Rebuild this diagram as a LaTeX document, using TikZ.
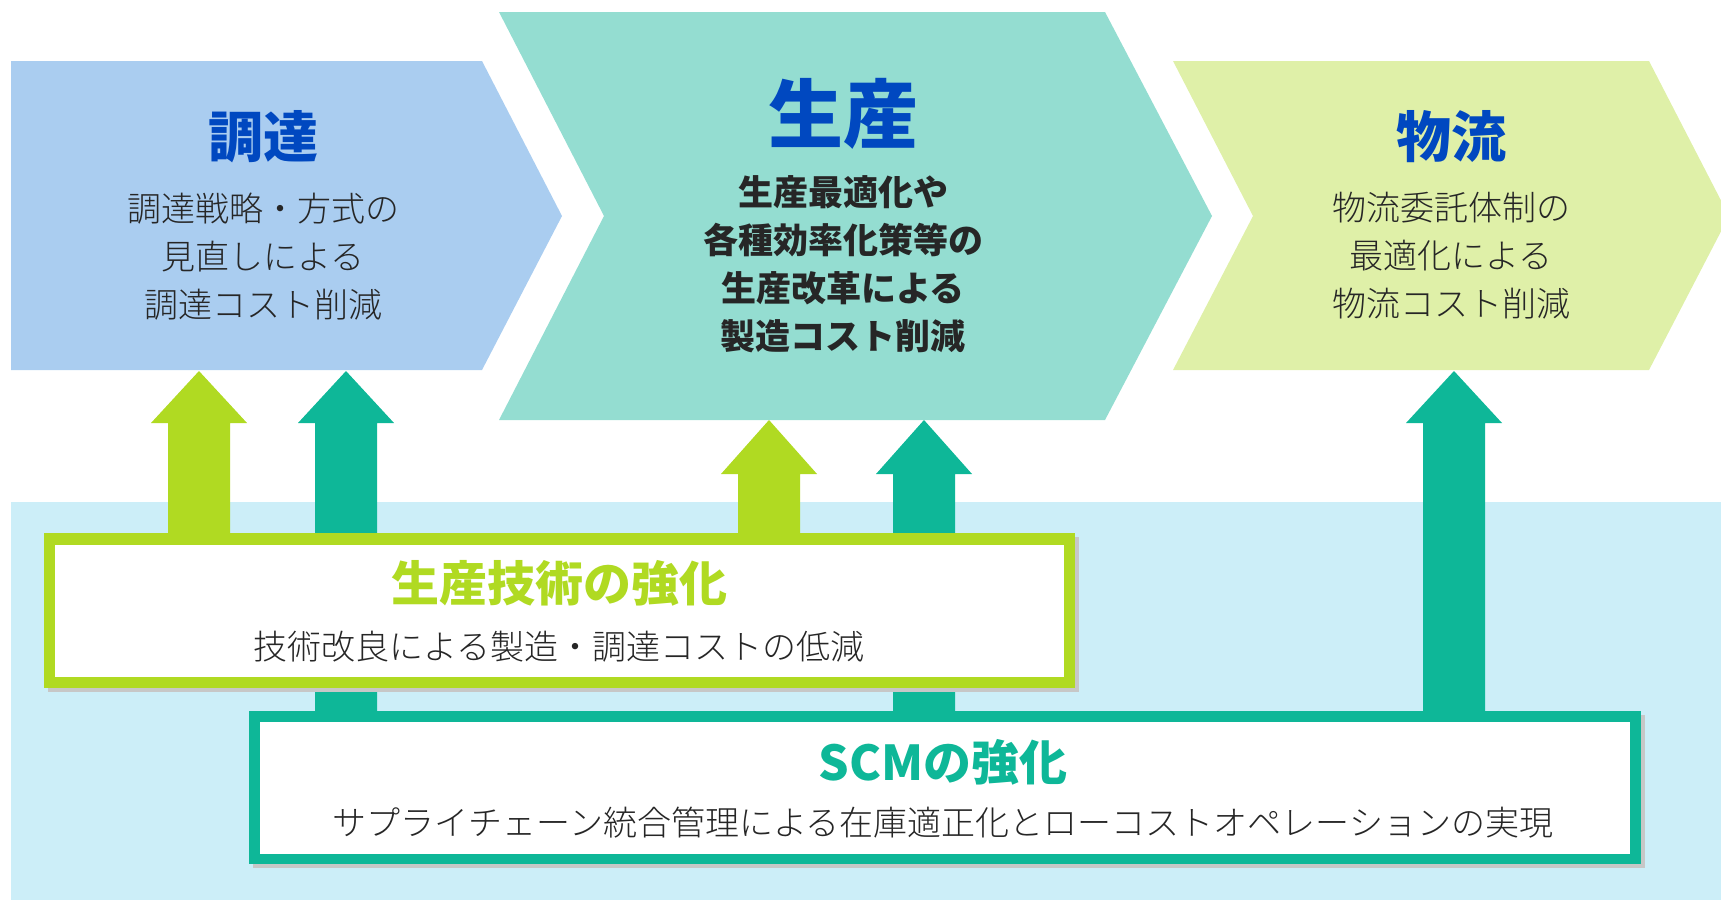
\documentclass[tikz,border=0pt]{standalone}
\usepackage{fontspec}
\setmainfont{Noto Sans CJK JP}
\newfontfamily\jplight{Noto Sans CJK JP Light}
\usepackage{tikz}

\definecolor{procblue}{RGB}{170,205,240}
\definecolor{prodteal}{RGB}{148,221,209}
\definecolor{logigreen}{RGB}{223,240,168}
\definecolor{techlime}{RGB}{176,218,34}
\definecolor{scmteal}{RGB}{14,183,152}
\definecolor{basesky}{RGB}{204,238,248}
\definecolor{headblue}{RGB}{0,72,192}
\definecolor{bodygray}{RGB}{38,38,38}

\tikzset{head text/.style={text=headblue, font=\bfseries\fontsize{55}{60}\selectfont},
         body text/.style={text=bodygray, align=center, font=\jplight\fontsize{34}{48}\selectfont},
         box title/.style={font=\bfseries\fontsize{48}{52}\selectfont},
         box body/.style={text=bodygray, font=\jplight\fontsize{34}{40}\selectfont}}

\newcommand{\blockup}[5]{%
  \fill[#1] (#2,#3) -- (#2+48,#4) -- (#2+31,#4) -- (#2+31,#5)
    -- (#2-31,#5) -- (#2-31,#4) -- (#2-48,#4) -- cycle;}

\begin{document}
\begin{tikzpicture}[x=1pt,y=-1pt]
\useasboundingbox (0,0) rectangle (1721,900);
\clip (0,0) rectangle (1721,900);

\fill[basesky] (11,502) rectangle (1721,900);

\fill[procblue] (11,61) -- (482,61) -- (562,216) -- (482,370) -- (11,370) -- cycle;
\fill[prodteal] (499,12) -- (1105,12) -- (1212,216) -- (1105,420) -- (499,420) -- (604,216) -- cycle;
\fill[logigreen] (1173,61) -- (1649,61) -- (1729,216) -- (1649,370) -- (1173,370) -- (1253,216) -- cycle;

\node[head text] (proc-title) at (263,137) {調達};
\node[body text] (proc-body) at (263,257) {調達戦略・方式の\\見直しによる\\調達コスト削減};
\node[head text, font=\bfseries\fontsize{75}{80}\selectfont] (prod-title) at (843,114) {生産};
\node[body text, font=\bfseries\fontsize{35}{48}\selectfont] (prod-body) at (843,264) {生産最適化や\\各種効率化策等の\\生産改革による\\製造コスト削減};
\node[head text] (logi-title) at (1451,137) {物流};
\node[body text] (logi-body) at (1451,256) {物流委託体制の\\最適化による\\物流コスト削減};

\blockup{techlime}{199}{371}{423}{540}
\blockup{scmteal}{346}{371}{423}{715}
\blockup{techlime}{769}{420}{474}{540}
\blockup{scmteal}{924}{420}{474}{715}
\blockup{scmteal}{1454}{371}{423}{715}

\fill[black!22] (48,537) rectangle (1079,692);
\fill[techlime] (44,533) rectangle (1075,688);
\fill[white] (55,545) rectangle (1064,677);
\node[box title, text=techlime] (tech-title) at (559,583) {生産技術の強化};
\node[box body] (tech-body) at (559,647) {技術改良による製造・調達コストの低減};

\fill[black!22] (253,715) rectangle (1645,868);
\fill[scmteal] (249,711) rectangle (1641,864);
\fill[white] (260,722) rectangle (1630,854);
\node[box title, text=scmteal] (scm-title) at (943,762) {SCMの強化};
\node[box body] (scm-body) at (943,823) {サプライチェーン統合管理による在庫適正化とローコストオペレーションの実現};

\end{tikzpicture}
\end{document}
